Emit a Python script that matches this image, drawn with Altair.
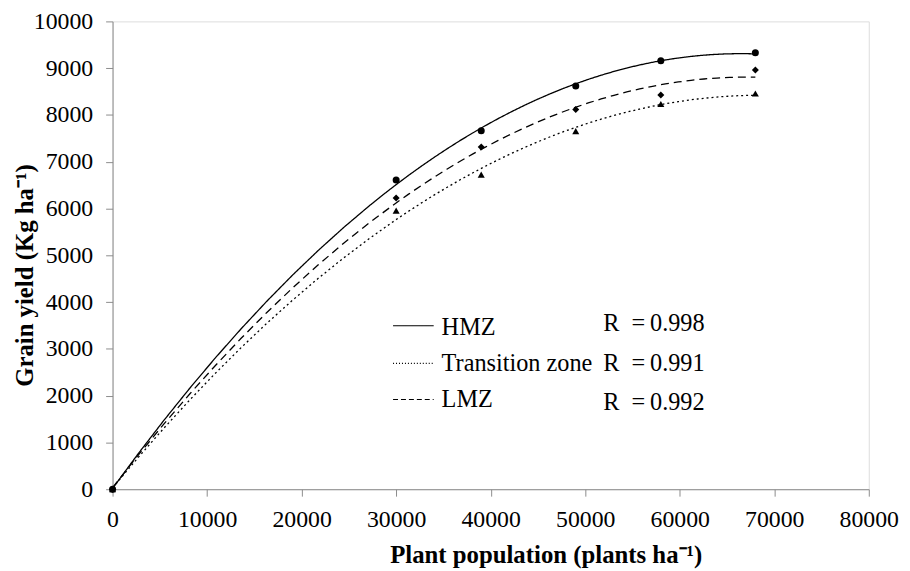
import altair as alt
import pandas as pd

# ---- data ----
populations = [0, 30000, 39000, 49000, 58000, 68000]
hmz_yield = [0, 6610, 7660, 8620, 9160, 9330]
lmz_yield = [0, 6225, 7315, 8115, 8425, 8960]
trans_yield = [0, 5955, 6725, 7655, 8235, 8460]

series_names = ["HMZ", "Transition zone", "LMZ"]
r_labels = ["R\u00a0\u00a0=\u20090.998", "R\u00a0\u00a0=\u20090.991", "R\u00a0\u00a0=\u20090.992"]
x_ticks = [0, 10000, 20000, 30000, 40000, 50000, 60000, 70000, 80000]
y_ticks = [0, 1000, 2000, 3000, 4000, 5000, 6000, 7000, 8000, 9000, 10000]

rows = []
for name, ys in zip(series_names, [hmz_yield, trans_yield, lmz_yield]):
    for p, v in zip(populations, ys):
        rows.append({"pop": p, "yield": v, "series": name})
df = pd.DataFrame(rows)

FONT = "Liberation Serif, Times New Roman, serif"
AX = "#8c8c8c"

x_enc = alt.X("pop:Q", scale=alt.Scale(domain=[0, 80000], nice=False),
              axis=alt.Axis(values=x_ticks, format="d", grid=False, tickSize=7,
                            labelFlush=False, labelOverlap=False,
                            domainColor=AX, tickColor=AX, labelColor="black",
                            labelFont=FONT, labelFontSize=24, labelPadding=12,
                            title="Plant population (plants ha\u207b\u00b9)",
                            titleFont=FONT, titleFontSize=25, titleFontWeight="bold",
                            titleColor="black", titleX=437, titleY=74,
                            titleAlign="center", titleBaseline="alphabetic"))
y_enc = alt.Y("yield:Q", scale=alt.Scale(domain=[0, 10000], nice=False),
              axis=alt.Axis(values=y_ticks, format="d", grid=False, tickSize=7,
                            labelFlush=False, labelOverlap=False,
                            domainColor=AX, tickColor=AX, labelColor="black",
                            labelFont=FONT, labelFontSize=24, labelPadding=13,
                            title="Grain yield (Kg ha\u207b\u00b9)",
                            titleFont=FONT, titleFontSize=25, titleFontWeight="bold",
                            titleColor="black", titleX=-81, titleY=256,
                            titleAlign="center", titleBaseline="alphabetic"))

dash_scale = alt.Scale(domain=series_names, range=[[1, 0], [2, 3], [8, 5]])
shape_scale = alt.Scale(domain=series_names, range=["circle", "triangle-up", "diamond"])
size_scale = alt.Scale(domain=series_names, range=[50, 50, 40])

base = alt.Chart(df)

curves = base.transform_regression(
    "pop", "yield", method="poly", order=2, groupby=["series"], extent=[0, 68000]
).mark_line(color="black", strokeWidth=1.3).encode(
    x=x_enc, y=y_enc,
    strokeDash=alt.StrokeDash("series:N", scale=dash_scale, legend=None),
    detail="series:N",
)

points = base.mark_point(filled=True, color="black", opacity=1).encode(
    x="pop:Q", y="yield:Q",
    shape=alt.Shape("series:N", scale=shape_scale, legend=None),
    size=alt.Size("series:N", scale=size_scale, legend=None),
)

# ---- manual legend (pixel space of the plot area) ----
legend_dash = [[1, 0], [1, 2], [5, 3]]
leg = pd.DataFrame({
    "series": series_names,
    "r": r_labels,
    "line_y": [307, 345, 381.5],
    "text_y": [309.5, 346, 382.5],
    "r_y": [305.5, 346, 385.5],
})
pix = alt.Scale(domain=[0, 472], range=[0, 472])

leg_lines = alt.Chart(leg).mark_rule(color="black", strokeWidth=1.1).encode(
    x=alt.value(283), x2=alt.value(324),
    y=alt.Y("line_y:Q", scale=pix, axis=None),
    strokeDash=alt.StrokeDash("series:N",
                              scale=alt.Scale(domain=series_names, range=legend_dash),
                              legend=None),
)
leg_text = alt.Chart(leg).mark_text(align="left", baseline="middle", font=FONT,
                                    fontSize=24.5, color="black").encode(
    x=alt.value(332),
    y=alt.Y("text_y:Q", scale=pix, axis=None),
    text="series:N")
leg_r = alt.Chart(leg).mark_text(align="left", baseline="middle", font=FONT,
                                 fontSize=24.5, color="black").encode(
    x=alt.value(495),
    y=alt.Y("r_y:Q", scale=pix, axis=None),
    text="r:N")

legend_all = alt.layer(leg_lines, leg_text, leg_r)

chart = alt.layer(
    alt.layer(curves, points),
    legend_all,
).resolve_scale(y="independent", x="independent", strokeDash="independent").properties(
    width=763, height=472,
    autosize=alt.AutoSizeParams(type="none"),
    padding={"left": 105.5, "top": 11, "right": 33.5, "bottom": 80},
).configure_view(stroke=None).configure(background="white")

chart.save("out.html", embed_options={"renderer": "svg", "actions": False})
